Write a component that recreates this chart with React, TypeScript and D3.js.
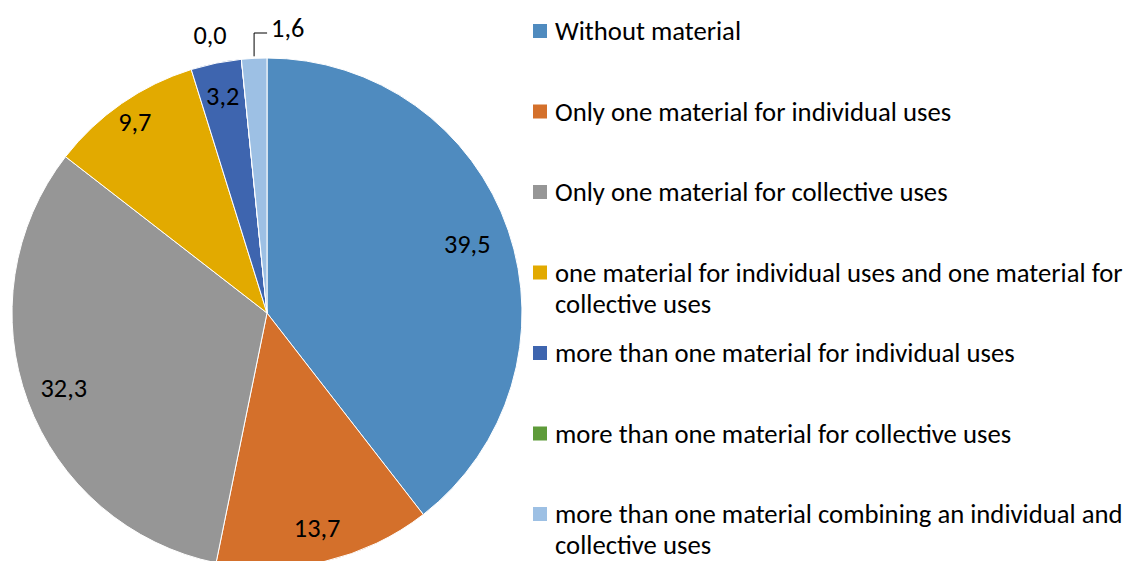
import React from "react";
import * as d3 from "d3";

const categories = [
  "Without material",
  "Only one material for individual uses",
  "Only one material for collective uses",
  "one material for individual uses and one material for collective uses",
  "more than one material for individual uses",
  "more than one material for collective uses",
  "more than one material combining an individual and collective uses",
];
const values = [39.5, 13.7, 32.3, 9.7, 3.2, 0.0, 1.6];
const labels = ["39,5", "13,7", "32,3", "9,7", "3,2", "0,0", "1,6"];
const legendLines = [
  ["Without material"],
  ["Only one material for individual uses"],
  ["Only one material for collective uses"],
  ["one material for individual uses and one material for", "collective uses"],
  ["more than one material for individual uses"],
  ["more than one material for collective uses"],
  ["more than one material combining an individual and", "collective uses"],
];
const colors = ["#4F8BBF", "#D4702B", "#969696", "#E2AA00", "#3E65AF", "#5E9B3A", "#9DC0E4"];

const W = 1126;
const H = 561;
const cx = 267;
const cy = 313;
const R = 255;
const FONT = "Carlito, Lato, sans-serif";

export default function App() {
  const pie = d3.pie<number>().sort(null).value((d) => d);
  const arcs = pie(values);
  const arc = d3.arc<d3.PieArcDatum<number>>().innerRadius(0).outerRadius(R);
  const labelRatio = [0.83, 0.865, 0.85, 0.91, 0.87, 1.11, 1.1];
  const fs = 26.3;
  const lfs = 26.7;

  return (
    <svg width={W} height={H} style={{ position: "absolute", left: 0, top: 0, fontFamily: FONT }}>
      <rect width={W} height={H} fill="#fff" />
      <g transform={`translate(${cx},${cy})`}>
        {arcs.map((a, i) => (
          <path key={i} d={arc(a) || ""} fill={colors[i]} stroke="#fff" strokeWidth={1} />
        ))}
        {arcs.map((a, i) => {
          const mid = (a.startAngle + a.endAngle) / 2;
          const r = R * labelRatio[i];
          let x = Math.sin(mid) * r;
          let y = -Math.cos(mid) * r;
          if (i === 5) {
            x = -57;
            y = -278;
            return (
              <text key={i} x={x} y={y} textAnchor="middle" dominantBaseline="central" fontSize={fs} fill="#000">
                {labels[i]}
              </text>
            );
          }
          if (i === 6) {
            const ex = Math.sin(mid) * (R + 2);
            const ey = -Math.cos(mid) * (R + 2);
            const ly = -280;
            return (
              <g key={i}>
                <polyline points={`${ex},${ey} ${ex},${ly} ${ex + 13},${ly}`} fill="none" stroke="#000" strokeWidth={1} />
                <text x={ex + 17} y={ly - 5} textAnchor="start" dominantBaseline="central" fontSize={fs} fill="#000">
                  {labels[i]}
                </text>
              </g>
            );
          }
          return (
            <text key={i} x={x} y={y} textAnchor="middle" dominantBaseline="central" fontSize={fs} fill="#000">
              {labels[i]}
            </text>
          );
        })}
      </g>
      <g>
        {categories.map((c, i) => {
          const y0 = 31 + i * 80.5;
          return (
            <g key={c}>
              <rect x={533} y={y0 - 7} width={14} height={14} fill={colors[i]} />
              {legendLines[i].map((ln, j) => (
                <text key={j} x={555} y={y0 + j * 31} dominantBaseline="central" fontSize={lfs} fill="#000">
                  {ln}
                </text>
              ))}
            </g>
          );
        })}
      </g>
    </svg>
  );
}
